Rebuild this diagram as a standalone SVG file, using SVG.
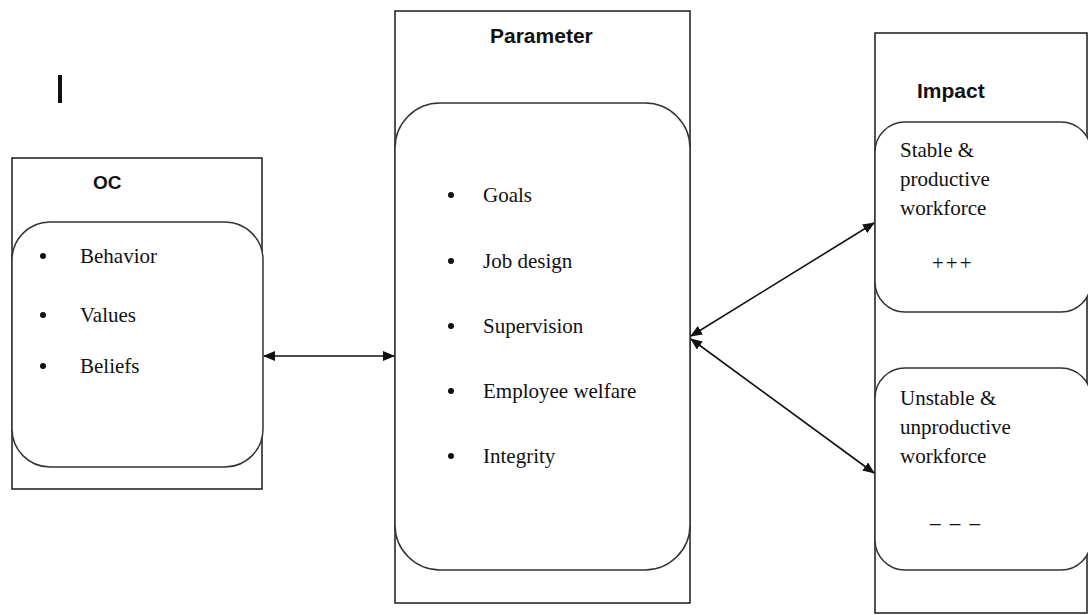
<svg xmlns="http://www.w3.org/2000/svg" width="1088" height="615" viewBox="0 0 1088 615">
  <defs>
    <style>
      .frame { fill: none; stroke: #1a1a1a; stroke-width: 1.5; }
      .panel { fill: #ffffff; stroke: #333333; stroke-width: 1.5; }
      .title { font-family: "Liberation Sans", Arial, sans-serif; font-weight: bold; font-size: 21px; fill: #111111; }
      .item { font-family: "Liberation Serif", "Times New Roman", serif; font-size: 21px; fill: #111111; }
      .link { fill: none; stroke: #111111; stroke-width: 1.6; }
    </style>
    <marker id="arrow" viewBox="0 0 12 10" refX="11" refY="5" markerWidth="12" markerHeight="10" markerUnits="userSpaceOnUse" orient="auto-start-reverse">
      <path d="M0,0 L12,5 L0,10 Z" fill="#111111"/>
    </marker>
  </defs>

  <rect width="1088" height="615" fill="#ffffff"/>

  <!-- stray cursor bar, top left -->
  <rect x="58" y="75" width="4" height="28" fill="#111111"/>

  <!-- OC -->
  <g id="node-oc">
    <rect class="frame" x="12" y="158" width="250" height="331"/>
    <rect class="panel" x="12" y="222" width="251" height="245" rx="38" ry="38"/>
    <text class="title" x="93" y="189" style="font-size:19px">OC</text>
    <g class="item">
      <circle cx="43" cy="256" r="3"/>
      <text x="80" y="263">Behavior</text>
      <circle cx="43" cy="315" r="3"/>
      <text x="80" y="322">Values</text>
      <circle cx="43" cy="366" r="3"/>
      <text x="80" y="373">Beliefs</text>
    </g>
  </g>

  <!-- Parameter -->
  <g id="node-parameter">
    <rect class="frame" x="395" y="11" width="295" height="592"/>
    <rect class="panel" x="395" y="103" width="295" height="467" rx="45" ry="45"/>
    <text class="title" x="490" y="43">Parameter</text>
    <g class="item">
      <circle cx="451" cy="195" r="3"/>
      <text x="483" y="202">Goals</text>
      <circle cx="451" cy="261" r="3"/>
      <text x="483" y="268">Job design</text>
      <circle cx="451" cy="326" r="3"/>
      <text x="483" y="333">Supervision</text>
      <circle cx="451" cy="391" r="3"/>
      <text x="483" y="398">Employee welfare</text>
      <circle cx="451" cy="456" r="3"/>
      <text x="483" y="463">Integrity</text>
    </g>
  </g>

  <!-- Impact -->
  <g id="node-impact">
    <rect class="frame" x="875" y="33" width="212" height="580"/>
    <text class="title" x="917" y="98">Impact</text>
  </g>

  <g id="node-stable">
    <rect class="panel" x="875" y="122" width="216" height="190" rx="30" ry="30"/>
    <g class="item">
      <text x="900" y="157">Stable &amp;</text>
      <text x="900" y="186">productive</text>
      <text x="900" y="215">workforce</text>
      <text x="932" y="270" letter-spacing="2">+++</text>
    </g>
  </g>

  <g id="node-unstable">
    <rect class="panel" x="875" y="368" width="216" height="202" rx="30" ry="30"/>
    <g class="item">
      <text x="900" y="405">Unstable &amp;</text>
      <text x="900" y="434">unproductive</text>
      <text x="900" y="463">workforce</text>
      <text x="930" y="522" xml:space="preserve" word-spacing="4">_ _ _</text>
    </g>
  </g>

  <!-- connectors -->
  <g id="connectors">
    <line class="link" x1="264" y1="356" x2="394" y2="356" marker-start="url(#arrow)" marker-end="url(#arrow)"/>
    <line class="link" x1="691" y1="336" x2="874" y2="223" marker-start="url(#arrow)" marker-end="url(#arrow)"/>
    <line class="link" x1="691" y1="339" x2="874" y2="473" marker-start="url(#arrow)" marker-end="url(#arrow)"/>
  </g>
</svg>
